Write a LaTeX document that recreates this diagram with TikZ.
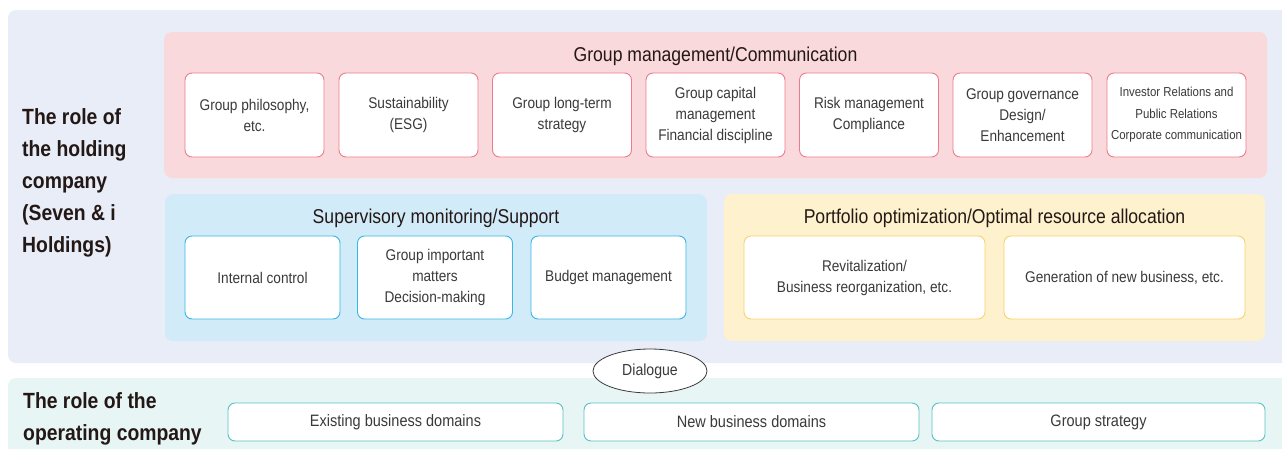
\documentclass[tikz,border=0pt]{standalone}
\usepackage{fontspec}
\setmainfont{Liberation Sans}[FakeStretch=0.88]
\usetikzlibrary{positioning,shapes.geometric}
\definecolor{lavbg}{HTML}{E8EDF7}
\definecolor{tealbg}{HTML}{E7F5F5}
\definecolor{pinkbg}{HTML}{F9D9DC}
\definecolor{bluebg}{HTML}{D2EBF8}
\definecolor{yellbg}{HTML}{FEF1CD}
\definecolor{pinkln}{HTML}{EE7A8C}
\definecolor{blueln}{HTML}{38B6E8}
\definecolor{yellln}{HTML}{F8D26A}
\definecolor{tealln}{HTML}{55C3C6}
\definecolor{txt}{HTML}{3A3A3A}
\definecolor{ink}{HTML}{231815}

\begin{document}
\begin{tikzpicture}[
      x={(1pt,0)}, y={(0,-1pt)},
      every node/.style={inner sep=0pt,text=txt},
      panel/.style={rounded corners=8pt,draw=none},
      item/.style={draw,fill=white,rounded corners=7pt,line width=0.9pt,align=center,
                   font=\fontsize{15.5}{21}\selectfont},
      pitem/.style={item,draw=pinkln,minimum width=139pt,minimum height=84pt},
      bitem/.style={item,draw=blueln,minimum width=155pt,minimum height=83pt},
      yitem/.style={item,draw=yellln,minimum width=241pt,minimum height=83pt},
      titem/.style={item,draw=tealln,minimum height=38pt,font=\fontsize{16.5}{20}\selectfont},
      ttl/.style={anchor=base,text=ink,font=\fontsize{20}{24}\selectfont},
      role/.style={anchor=north west,align=left,text=ink,font=\bfseries\fontsize{22}{32}\selectfont},
    ]
    \useasboundingbox (0,0) rectangle (1282,448);

    % background panels
    \node[panel,fill=lavbg,minimum width=1290pt,minimum height=353pt] (hold) at (653,186.5) {};
    \node[panel,fill=tealbg,minimum width=1290pt,minimum height=90pt] (oper) at (653,423) {};
    \node[panel,fill=pinkbg,minimum width=1103pt,minimum height=146pt] (grp) at (715.5,105) {};
    \node[panel,fill=bluebg,minimum width=542pt,minimum height=147pt] (sup) at (436,267.5) {};
    \node[panel,fill=yellbg,minimum width=541pt,minimum height=147pt] (port) at (994.5,267.5) {};

    \node[role] (holdlbl) at (22,108) {The role of\\the holding\\company\\(Seven \& i\\Holdings)};
    \node[role] (operlbl) at (23,392) {The role of the\\operating company};

    % group management
    \node[ttl] (grpttl) at (715.5,61) {Group management/Communication};
    \node[pitem] (p1) at (254.5,115) {Group philosophy,\\etc.};
    \node[pitem] (p2) at (408.5,115) {Sustainability\\(ESG)};
    \node[pitem] (p3) at (562,115) {Group long-term\\strategy};
    \node[pitem] (p4) at (715.5,115) {Group capital\\management\\Financial discipline};
    \node[pitem] (p5) at (869,115) {Risk management\\Compliance};
    \node[pitem] (p6) at (1022.5,115) {Group governance\\Design/\\Enhancement};
    \node[pitem,font=\fontsize{13}{21.5}\selectfont] (p7) at (1176.5,115) {Investor Relations and\\Public Relations\\Corporate communication};

    % supervisory monitoring
    \node[ttl] (supttl) at (436,223) {Supervisory monitoring/Support};
    \node[bitem] (b1) at (262.5,277.5) {Internal control};
    \node[bitem] (b2) at (435,277.5) {Group important\\matters\\Decision-making};
    \node[bitem] (b3) at (608.5,277.5) {Budget management};

    % portfolio
    \node[ttl] (portttl) at (994.5,223) {Portfolio optimization/Optimal resource allocation};
    \node[yitem] (y1) at (864.5,277.5) {Revitalization/\\Business reorganization, etc.};
    \node[yitem] (y2) at (1124.5,277.5) {Generation of new business, etc.};

    % operating company
    \node[titem,minimum width=335pt] (t1) at (395.5,422) {Existing business domains};
    \node[titem,minimum width=335pt] (t2) at (751.5,422) {New business domains};
    \node[titem,minimum width=333pt] (t3) at (1098.5,422) {Group strategy};

    \node[ellipse,draw=txt,fill=white,line width=0.8pt,minimum width=114pt,minimum height=44pt,
          font=\fontsize{16}{20}\selectfont] (dlg) at (650,371) {Dialogue};
  \end{tikzpicture}
\end{document}
